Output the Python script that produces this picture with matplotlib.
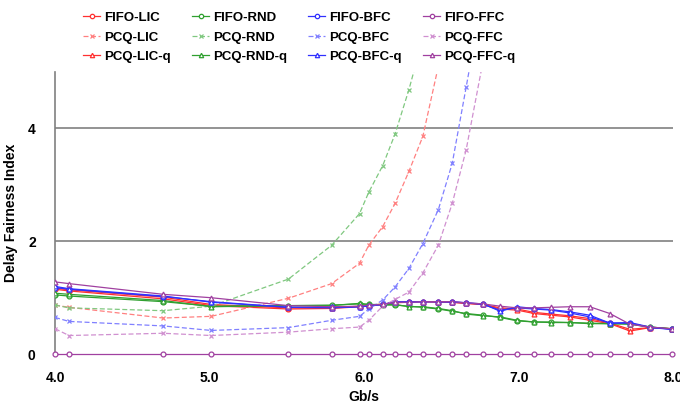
import numpy as np
import matplotlib
matplotlib.use("Agg")
import matplotlib.pyplot as plt

plt.rcParams['font.family'] = ['Liberation Sans', 'DejaVu Sans']

nan = np.nan
x = [4.0, 4.09, 4.70, 5.01, 5.51, 5.79, 5.97, 6.03, 6.12, 6.20, 6.29, 6.38, 6.48,
     6.57, 6.66, 6.77, 6.88, 6.99, 7.10, 7.21, 7.33, 7.46, 7.59, 7.72, 7.85, 7.99]

fifo_lic = [1.15, 1.12, 0.98, 0.86, 0.80, 0.81, 0.84, 0.86, 0.89, 0.91, 0.92, 0.93, 0.92,
            0.92, 0.90, 0.88, 0.82, 0.80, 0.74, 0.71, 0.68, 0.63, 0.55, 0.44, 0.47, 0.45]
fifo_rnd = [1.05, 1.03, 0.93, 0.85, 0.86, 0.87, 0.89, 0.88, 0.87, 0.87, 0.85, 0.83, 0.80,
            0.76, 0.72, 0.69, 0.65, 0.59, 0.57, 0.57, 0.56, 0.55, 0.54, 0.53, 0.48, 0.45]
fifo_bfc = [1.18, 1.15, 1.02, 0.93, 0.83, 0.83, 0.84, 0.85, 0.88, 0.92, 0.92, 0.93, 0.93,
            0.92, 0.91, 0.88, 0.78, 0.82, 0.80, 0.78, 0.73, 0.66, 0.55, 0.55, 0.47, 0.44]
fifo_ffc = [0.0] * 26

pcq_lic = [0.87, 0.83, 0.64, 0.67, 0.99, 1.25, 1.61, 1.93, 2.26, 2.67, 3.24, 3.86, 5.1,
           nan, nan, nan, nan, nan, nan, nan, nan, nan, nan, nan, nan, nan]
pcq_rnd = [0.87, 0.82, 0.77, 0.85, 1.33, 1.93, 2.49, 2.87, 3.34, 3.90, 4.69, 5.6, nan,
           nan, nan, nan, nan, nan, nan, nan, nan, nan, nan, nan, nan, nan]
pcq_bfc = [0.65, 0.58, 0.50, 0.42, 0.47, 0.60, 0.67, 0.80, 0.96, 1.19, 1.52, 1.96, 2.56,
           3.38, 4.73, 6.4, nan, nan, nan, nan, nan, nan, nan, nan, nan, nan]
pcq_ffc = [0.45, 0.33, 0.37, 0.33, 0.39, 0.45, 0.48, 0.60, 0.85, 0.97, 1.10, 1.44, 1.93,
           2.67, 3.62, 5.2, nan, nan, nan, nan, nan, nan, nan, nan, nan, nan]

pcq_lic_q = [1.17, 1.14, 1.01, 0.88, 0.82, 0.82, 0.85, 0.87, 0.88, 0.92, 0.93, 0.93, 0.93,
             0.92, 0.90, 0.88, 0.80, 0.78, 0.72, 0.69, 0.66, 0.60, 0.54, 0.41, 0.47, 0.45]
pcq_rnd_q = [1.08, 1.06, 0.95, 0.84, 0.86, 0.86, 0.90, 0.88, 0.88, 0.88, 0.84, 0.84, 0.81,
             0.77, 0.71, 0.68, 0.66, 0.60, 0.57, 0.56, 0.56, 0.54, 0.54, 0.54, 0.48, 0.45]
pcq_bfc_q = [1.20, 1.16, 1.03, 0.92, 0.83, 0.82, 0.84, 0.86, 0.88, 0.93, 0.93, 0.93, 0.93,
             0.93, 0.91, 0.89, 0.76, 0.84, 0.81, 0.79, 0.75, 0.69, 0.55, 0.56, 0.48, 0.44]
pcq_ffc_q = [1.28, 1.25, 1.06, 1.00, 0.86, 0.84, 0.85, 0.87, 0.88, 0.92, 0.92, 0.93, 0.93,
             0.93, 0.91, 0.89, 0.85, 0.82, 0.82, 0.83, 0.84, 0.84, 0.72, 0.53, 0.48, 0.45]

x_ticks = [4.0, 5.0, 6.0, 7.0, 8.0]
x_tick_labels = ["4.0", "5.0", "6.0", "7.0", "8.0"]
y_ticks = [0, 2, 4]
y_tick_labels = ["0", "2", "4"]

fig = plt.figure(figsize=(6.8, 4.08), dpi=100)
ax = fig.add_axes([0.081, 0.132, 0.909, 0.6915])

c_main = {'LIC': '#ff3030', 'RND': '#30a030', 'BFC': '#3030ff', 'FFC': '#a040a0'}
c_light = {'LIC': '#ff8080', 'RND': '#80c880', 'BFC': '#8080ff', 'FFC': '#d090d0'}

series = [
    ('LIC', fifo_lic, pcq_lic, pcq_lic_q),
    ('RND', fifo_rnd, pcq_rnd, pcq_rnd_q),
    ('BFC', fifo_bfc, pcq_bfc, pcq_bfc_q),
    ('FFC', fifo_ffc, pcq_ffc, pcq_ffc_q),
]

handles = []
labels = []
for name, f, p, q in series:
    h1, = ax.plot(x, f, color=c_main[name], lw=0.9, marker='o', ms=3.5,
                  mfc='white', mec=c_main[name], mew=0.9, zorder=3,
                  clip_on=(name != 'FFC'))
    h2, = ax.plot(x, p, color=c_light[name], lw=0.9, ls=(0, (4, 2)), marker='x',
                  ms=3.5, mec=c_light[name], mew=0.9, zorder=3)
    h3, = ax.plot(x, q, color=c_main[name], lw=0.9, marker='^', ms=3.5,
                  mfc='white', mec=c_main[name], mew=0.9, zorder=3)
    handles += [h1, h2, h3]
    labels += ['FIFO-' + name, 'PCQ-' + name, 'PCQ-' + name + '-q']

ax.set_xlim(4.0, 8.0)
ax.set_ylim(0, 5.0)
ax.set_xticks(x_ticks)
ax.set_xticklabels(x_tick_labels, fontweight='bold', fontsize=10)
ax.set_yticks(y_ticks)
ax.set_yticklabels(y_tick_labels, fontweight='bold', fontsize=10)
ax.tick_params(length=0, pad=12)
ax.tick_params(axis='y', pad=14)
for yv in [2, 4]:
    ax.axhline(yv, color='#808080', lw=1.2, zorder=1)
for s in ['top', 'right', 'bottom']:
    ax.spines[s].set_visible(False)
ax.spines['left'].set_color('#808080')
ax.spines['left'].set_linewidth(1.2)

ax.set_ylabel('Delay Fairness Index', fontweight='bold', fontsize=10, labelpad=7)
ax.set_xlabel('Gb/s', fontweight='bold', fontsize=10, labelpad=4)

fig.legend(handles, labels, ncol=4, loc='upper left', bbox_to_anchor=(0.105, 1.0),
           frameon=False, prop={'weight': 'bold', 'size': 9.5},
           handlelength=1.3, handletextpad=0.3, columnspacing=1.6,
           labelspacing=0.55, markerscale=0.9)

fig.savefig('out.png', dpi=100)
